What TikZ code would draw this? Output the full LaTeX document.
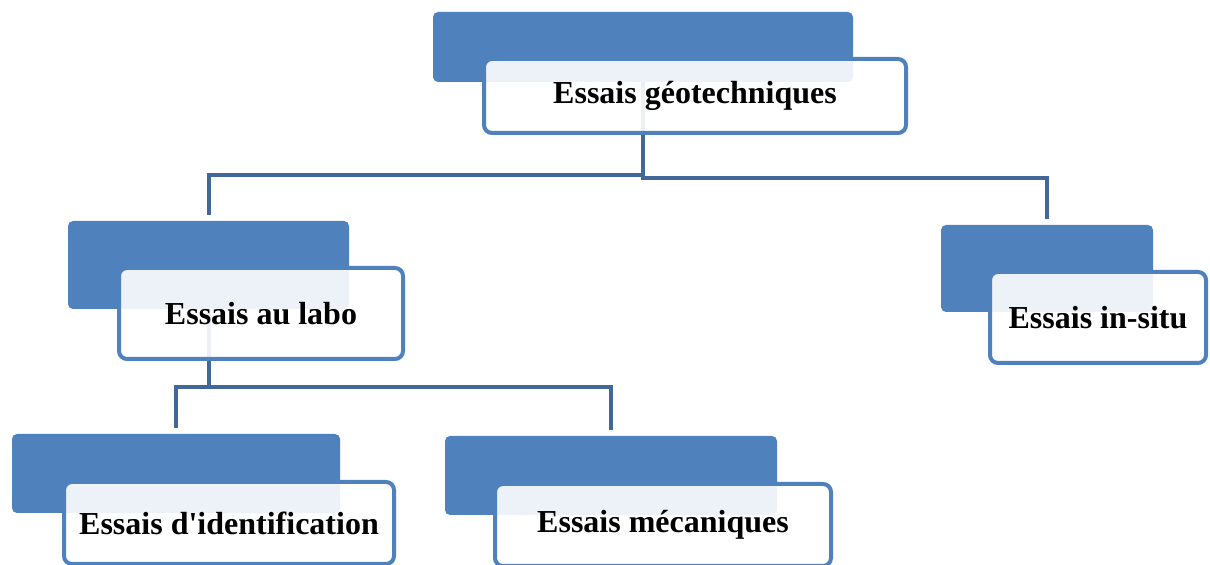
\documentclass[tikz,border=0pt]{standalone}
\usepackage{fontspec}
\setmainfont{Liberation Serif}[Ligatures=TeXOff]
\usetikzlibrary{positioning}
\definecolor{mblue}{RGB}{79,129,189}
\definecolor{mline}{RGB}{65,104,153}
\tikzset{backbox/.style = {fill=mblue, rounded corners=2.5pt, inner sep=0pt, outer sep=0pt, anchor=north west},
         frontbox/.style = {draw=mblue, line width=2pt, fill=white, fill opacity=0.9, text opacity=1,
                            rounded corners=4pt, inner sep=0pt, outer sep=0pt, anchor=north west,
                            font=\fontsize{16}{19}\selectfont\bfseries},
         link/.style = {draw=mline, line width=2pt, shorten >=3pt}}

\begin{document}
\begin{tikzpicture}[x=0.5pt, y=-0.5pt]
    \useasboundingbox (0, 0) rectangle (1210, 565);

    % blue back boxes
    \node [backbox, minimum width=210pt, minimum height=35pt] (geoBack) at (433, 12) {};
    \node [backbox, minimum width=140.5pt, minimum height=44pt] (laboBack) at (68, 221) {};
    \node [backbox, minimum width=106pt, minimum height=43.5pt] (insituBack) at (941, 225) {};
    \node [backbox, minimum width=164pt, minimum height=39.5pt] (identBack) at (12, 434) {};
    \node [backbox, minimum width=166pt, minimum height=39.5pt] (mecaBack) at (445, 436) {};

    % connectors
    \draw [link] (geoBack.south) -- ++(0, 93) -| (laboBack.north);
    \draw [link] (geoBack.south) -- ++(0, 96) -| (insituBack.north);
    \draw [link] (laboBack.south) -- ++(0, 78) -| (identBack.north);
    \draw [link] (laboBack.south) -- ++(0, 78) -| (mecaBack.north);

    % white front boxes
    \node [frontbox, minimum width=211pt, minimum height=37pt] (geo) at (484, 59) {Essais géotechniques};
    \node [frontbox, minimum width=142pt, minimum height=45.5pt] (labo) at (119, 268) {Essais au labo};
    \node [frontbox, minimum width=108pt, minimum height=45.5pt] (insitu) at (990, 272) {Essais in-situ};
    \node [frontbox, minimum width=165pt, minimum height=41pt] (ident) at (64, 482) {Essais d'identification};
    \node [frontbox, minimum width=168pt, minimum height=41pt] (meca) at (495, 484) {Essais mécaniques};
\end{tikzpicture}
\end{document}
